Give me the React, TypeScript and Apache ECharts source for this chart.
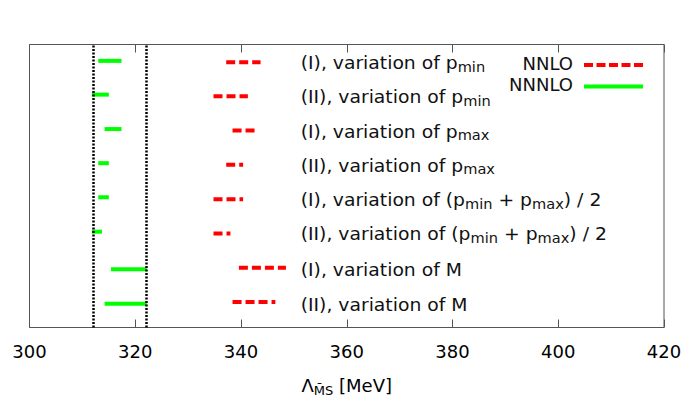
import React, { useEffect, useRef } from "react";
import * as echarts from "echarts";

// x ranges (MeV) of the NNLO (red dashed) and NNNLO (green solid) bands, per row
const rowLabels = [
  "(I), variation of p{sub|min}",
  "(II), variation of p{sub|min}",
  "(I), variation of p{sub|max}",
  "(II), variation of p{sub|max}",
  "(I), variation of (p{sub|min} + p{sub|max}) / 2",
  "(II), variation of (p{sub|min} + p{sub|max}) / 2",
  "(I), variation of M",
  "(II), variation of M",
];
const nnloFrom = [337.2, 334.8, 338.4, 337.2, 334.8, 334.8, 339.6, 338.4];
const nnloTo = [343.7, 341.3, 342.6, 340.4, 340.4, 338.0, 348.5, 346.5];
const nnloY = [7.78, 6.78, 5.78, 4.77, 3.76, 2.76, 1.75, 0.75];
const nnnloFrom = [313.0, 311.8, 314.2, 313.0, 313.0, 311.8, 315.4, 314.2];
const nnnloTo = [317.4, 315.0, 317.4, 315.0, 315.0, 313.7, 322.2, 322.2];
const nnnloY = [7.82, 6.83, 5.82, 4.82, 3.82, 2.81, 1.71, 0.70];
const labelY = [7.76, 6.76, 5.75, 4.76, 3.75, 2.75, 1.69, 0.68];
const labelX = 351.3;
const verticalLines = [312, 322];
const xTicks = { min: 300, max: 420, interval: 20 };
const yRange = { min: 0, max: 8.3 };

const FONT = "DejaVu Sans";
const RED = "#ff0000";
const GREEN = "#00ff00";
const BORDER = "#555555";
const LABEL_STRETCH = 1.042; // DejaVu Sans is a little narrower than the original's Verdana

export default function App() {
  const ref = useRef<HTMLDivElement>(null);
  useEffect(() => {
    if (!ref.current) return;
    const chart = echarts.init(ref.current, null, { renderer: "svg" });
    const segRender = (color: string, dash: number[] | null) => (params: any, api: any) => {
      const p1 = api.coord([api.value(0), api.value(2)]);
      const p2 = api.coord([api.value(1), api.value(2)]);
      return {
        type: "line",
        shape: { x1: p1[0], y1: p1[1], x2: p2[0], y2: p2[1] },
        style: { stroke: color, lineWidth: 4, lineDash: dash, lineCap: "butt" },
      };
    };
    const sub = { fontSize: 14, lineHeight: 12, verticalAlign: "bottom", fontFamily: FONT, fill: "#111" };
    const option: any = {
      animation: false,
      grid: { left: 29.5, right: 34, top: 44.5, bottom: 91.5, show: true, borderColor: BORDER, borderWidth: 1 },
      xAxis: [
        {
          type: "value",
          position: "bottom",
          min: xTicks.min,
          max: xTicks.max,
          interval: xTicks.interval,
          axisLine: { show: false },
          splitLine: { show: false },
          axisTick: { show: true, inside: true, length: 8, lineStyle: { color: BORDER } },
          axisLabel: { fontFamily: FONT, fontSize: 18, color: "#000", margin: 15 },
          name: "Λ{sub|M̄S} [MeV]",
          nameLocation: "middle",
          nameGap: 47,
          nameTextStyle: {
            fontFamily: FONT,
            fontSize: 18,
            color: "#000",
            lineHeight: 22,
            rich: { sub: { fontSize: 13, lineHeight: 12, verticalAlign: "bottom", fontFamily: FONT, color: "#000" } },
          },
        },
        {
          type: "value",
          position: "top",
          min: xTicks.min,
          max: xTicks.max,
          interval: xTicks.interval,
          axisLine: { show: false },
          splitLine: { show: false },
          axisTick: { show: true, inside: true, length: 8, lineStyle: { color: BORDER } },
          axisLabel: { show: false },
        },
      ],
      yAxis: {
        type: "value",
        min: yRange.min,
        max: yRange.max,
        axisLine: { show: false },
        axisTick: { show: false },
        axisLabel: { show: false },
        splitLine: { show: false },
      },
      series: [
        {
          type: "custom",
          name: "NNNLO",
          renderItem: segRender(GREEN, null),
          encode: { x: [0, 1], y: 2 },
          data: nnnloFrom.map((v, i) => [v, nnnloTo[i], nnnloY[i]]),
          z: 3,
          markLine: {
            silent: true,
            symbol: "none",
            label: { show: false },
            lineStyle: { color: "#000", width: 2.5, type: [2, 1.5] },
            data: verticalLines.map((x) => ({ xAxis: x })),
          },
        },
        {
          type: "custom",
          name: "NNLO",
          renderItem: segRender(RED, [9, 4]),
          encode: { x: [0, 1], y: 2 },
          data: nnloFrom.map((v, i) => [v, nnloTo[i], nnloY[i]]),
          z: 3,
        },
        {
          type: "custom",
          name: "labels",
          renderItem: (params: any, api: any) => {
            const p = api.coord([api.value(0), api.value(1)]);
            return {
              type: "text",
              x: p[0],
              y: p[1],
              scaleX: LABEL_STRETCH,
              style: {
                text: rowLabels[params.dataIndex],
                fontFamily: FONT,
                fontSize: 18,
                lineHeight: 22,
                fill: "#111",
                align: "left",
                verticalAlign: "middle",
                rich: { sub },
              },
            };
          },
          encode: { x: 0, y: 1 },
          data: labelY.map((y) => [labelX, y]),
          z: 4,
        },
      ],
      graphic: [
        { type: "text", right: 698 - 573, top: 54, style: { text: "NNLO", fontFamily: FONT, fontSize: 18, fill: "#111" } },
        { type: "text", right: 698 - 573, top: 75.5, style: { text: "NNNLO", fontFamily: FONT, fontSize: 18, fill: "#111" } },
        {
          type: "line",
          shape: { x1: 584, y1: 65, x2: 643, y2: 65 },
          style: { stroke: RED, lineWidth: 4, lineDash: [9, 3.5] },
        },
        {
          type: "line",
          shape: { x1: 584, y1: 86.5, x2: 643, y2: 86.5 },
          style: { stroke: GREEN, lineWidth: 4 },
        },
      ],
    };
    chart.setOption(option);
    return () => chart.dispose();
  }, []);
  return <div ref={ref} style={{ position: "absolute", left: 0, top: 0, width: 698, height: 419 }} />;
}
